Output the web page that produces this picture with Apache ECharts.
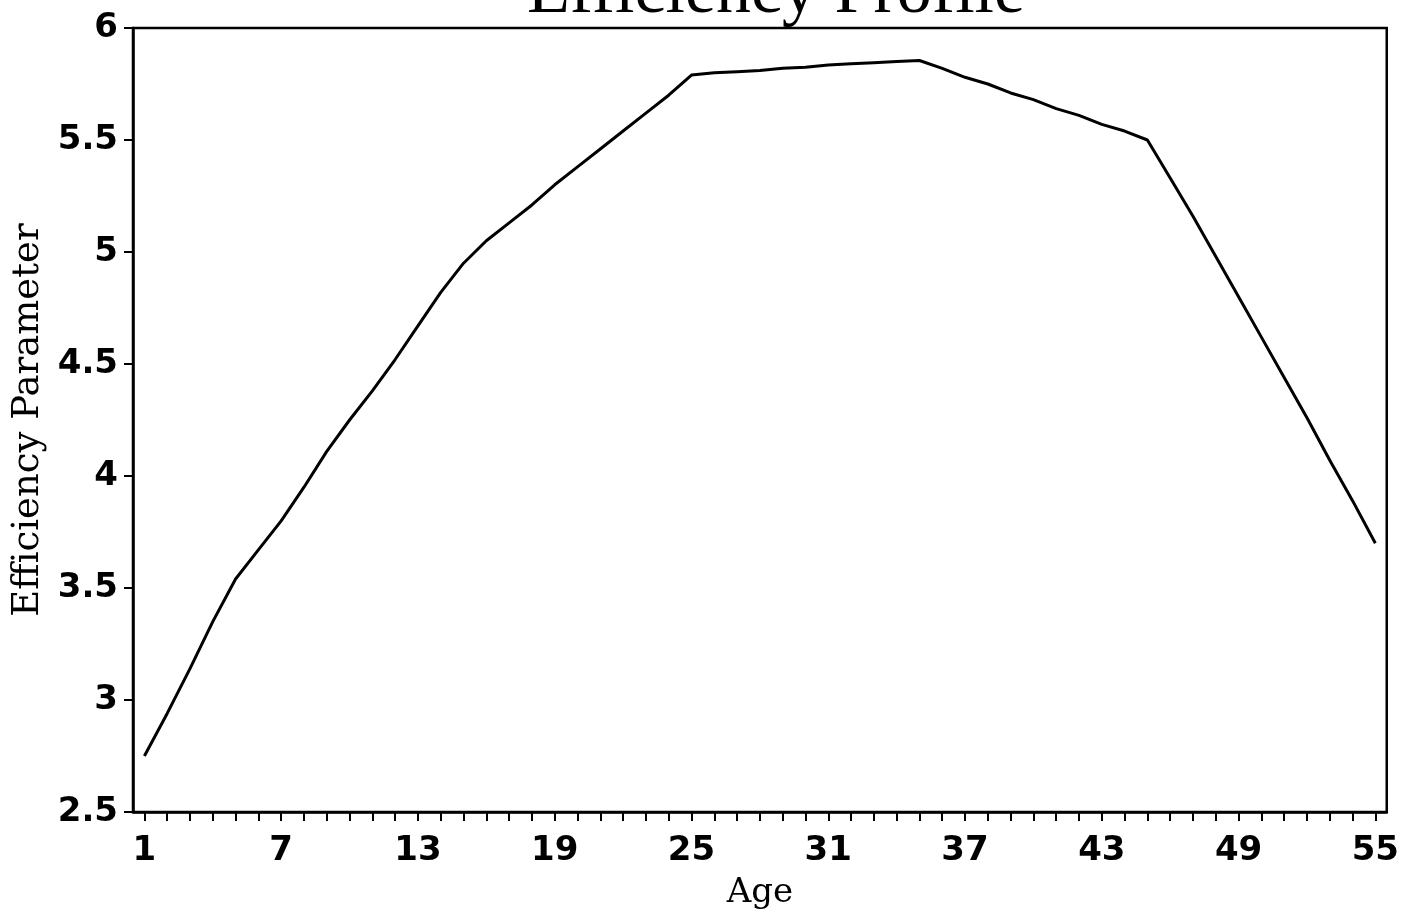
<!DOCTYPE html>
<html>
<head>
<meta charset="utf-8">
<script src="https://cdn.jsdelivr.net/npm/echarts@6/dist/echarts.min.js"></script>
<style>
html,body{margin:0;padding:0;background:#fff;}
#chart{width:1402px;height:915px;}
</style>
</head>
<body>
<div id="chart"></div>
<script>
const ages = [1,2,3,4,5,6,7,8,9,10,11,12,13,14,15,16,17,18,19,20,21,22,23,24,25,26,27,28,29,30,31,32,33,34,35,36,37,38,39,40,41,42,43,44,45,46,47,48,49,50,51,52,53,54,55];
const efficiency = [2.75,2.94,3.14,3.35,3.54,3.67,3.80,3.95,4.11,4.25,4.38,4.52,4.67,4.82,4.95,5.05,5.13,5.21,5.30,5.38,5.46,5.54,5.62,5.70,5.79,5.80,5.805,5.81,5.82,5.825,5.835,5.84,5.845,5.85,5.855,5.82,5.78,5.75,5.71,5.68,5.64,5.61,5.57,5.54,5.50,5.33,5.16,4.98,4.80,4.62,4.44,4.26,4.07,3.89,3.70];
const xTickLabels = [1,7,13,19,25,31,37,43,49,55];
const xMinorTicks = ages;
const titleText = 'Efficiency Profile';
const xName = 'Age';
const yName = 'Efficiency Parameter';

const chart = echarts.init(document.getElementById('chart'));
const labelFont = {color:'#000', fontFamily:'DejaVu Sans', fontWeight:'bold', fontSize:34};
chart.setOption({
  animation:false,
  backgroundColor:'#fff',
  title:{
    text:titleText, left:771, top:-46, textAlign:'center',
    textStyle:{fontFamily:'Liberation Serif', fontWeight:'normal', fontSize:70, color:'#000'}
  },
  grid:{left:133, right:10, top:28, bottom:103, show:true, borderColor:'#000', borderWidth:2.5, backgroundColor:'transparent'},
  xAxis:{
    type:'value', min:0.5, max:55.5,
    name:xName, nameLocation:'middle', nameGap:64,
    nameTextStyle:{fontFamily:'DejaVu Serif', fontSize:34, color:'#000'},
    axisLine:{show:true, lineStyle:{color:'#000', width:2.5}},
    axisTick:{show:true, customValues:xMinorTicks, length:9, inside:false, lineStyle:{color:'#000', width:2}},
    axisLabel:Object.assign({customValues:xTickLabels, margin:22}, labelFont),
    splitLine:{show:false}
  },
  yAxis:{
    type:'value', min:2.5, max:6, interval:0.5,
    name:yName, nameLocation:'middle', nameGap:86, nameRotate:90,
    nameTextStyle:{fontFamily:'DejaVu Serif', fontSize:37, color:'#000'},
    axisLine:{show:true, lineStyle:{color:'#000', width:2.5}},
    axisTick:{show:true, length:9, lineStyle:{color:'#000', width:2}},
    axisLabel:Object.assign({margin:15}, labelFont),
    splitLine:{show:false}
  },
  series:[{
    type:'line',
    data:ages.map((a,i)=>[a, efficiency[i]]),
    showSymbol:false,
    lineStyle:{color:'#000', width:3},
    silent:true
  }]
});
</script>
</body>
</html>
